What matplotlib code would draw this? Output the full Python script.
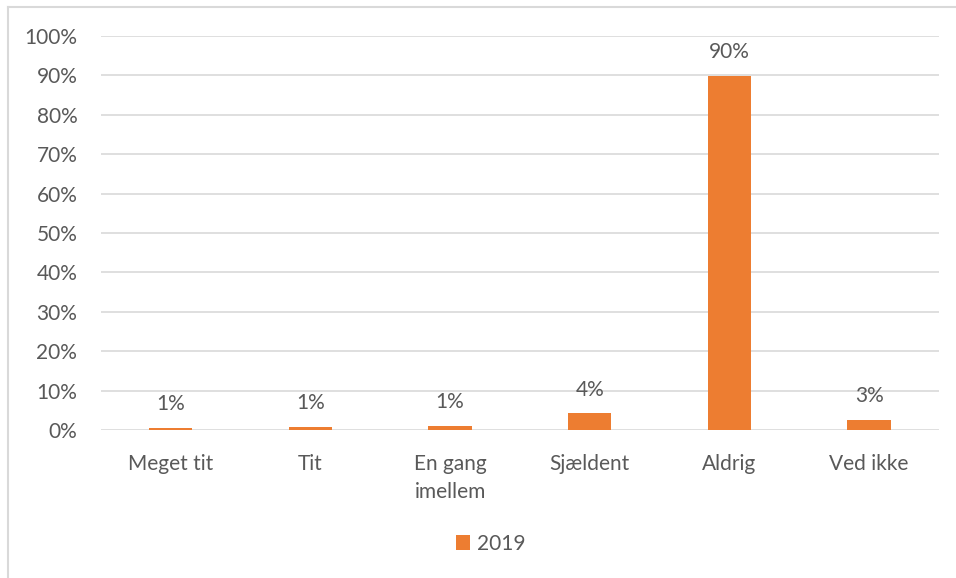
import matplotlib.pyplot as plt
from matplotlib.lines import Line2D

plt.rcParams['font.family'] = ['Lato', 'DejaVu Sans']

categories = ['Meget tit', 'Tit', 'En gang\nimellem', 'Sjældent', 'Aldrig', 'Ved ikke']
values_2019 = [0.6, 0.7, 1.1, 4.2, 89.8, 2.6]
yticks = [0, 10, 20, 30, 40, 50, 60, 70, 80, 90, 100]

bar_color = '#ED7D31'
text_color = '#595959'
grid_color = '#D9D9D9'
fs = 15

fig = plt.figure(figsize=(9.56, 5.78), dpi=100)
ax = fig.add_axes([0.1056, 0.256, 0.8766, 0.6817])

x = range(len(categories))
bars = ax.bar(x, values_2019, width=0.31, color=bar_color, label='2019', zorder=3)

for rect, v in zip(bars, values_2019):
    ax.annotate(f'{v:.0f}%', (rect.get_x() + rect.get_width() / 2, v),
                xytext=(0, 10), textcoords='offset points',
                ha='center', va='bottom', fontsize=fs, color=text_color)

ax.set_xlim(-0.5, len(categories) - 0.5)
ax.set_ylim(0, 100)
ax.set_yticks(yticks)
ax.set_yticklabels([f'{t}%' for t in yticks])
ax.set_xticks(list(x))
ax.set_xticklabels(categories, va='top', linespacing=1.5)
ax.tick_params(axis='both', length=0, labelsize=fs, labelcolor=text_color)
ax.tick_params(axis='y', pad=17)
ax.tick_params(axis='x', pad=17)
ax.grid(axis='y', color=grid_color, linewidth=1.2, zorder=0)
for s in ax.spines.values():
    s.set_visible(False)

fig.legend(handles=[bars], labels=['2019'], loc='center', bbox_to_anchor=(0.513, 0.059),
           frameon=False, fontsize=fs, labelcolor=text_color,
           handlelength=0.7, handleheight=0.7, handletextpad=0.3)

# light frame along top and left edges
fig.add_artist(Line2D([7.5 / 956, 1], [1 - 6.5 / 578] * 2, color=grid_color, lw=1.5))
fig.add_artist(Line2D([7.5 / 956] * 2, [0, 1 - 6.5 / 578], color=grid_color, lw=1.5))

fig.savefig('out.png', dpi=100)
